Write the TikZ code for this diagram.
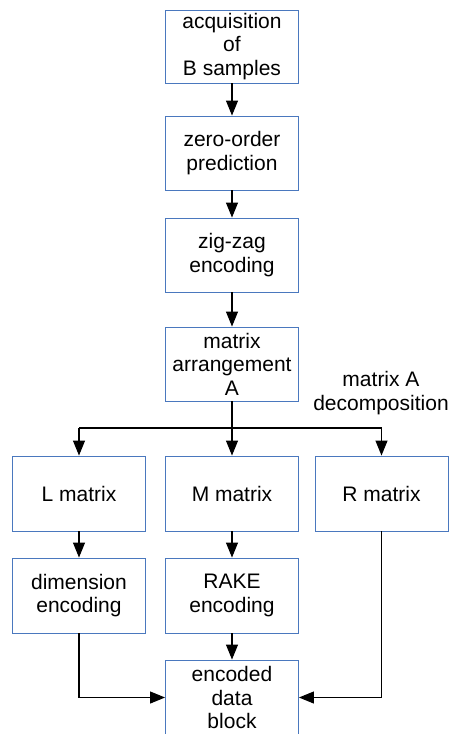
\documentclass[tikz,border=0pt]{standalone}
\usepackage{fontspec}
\setmainfont{Liberation Sans}
\usetikzlibrary{arrows.meta}
\definecolor{boxblue}{RGB}{74,120,190}
\begin{document}
\begin{tikzpicture}[x=1pt,y=-1pt,
  box/.style={draw=boxblue,line width=0.9pt,minimum width=133pt,minimum height=75pt,
    inner sep=0pt,align=center,font=\fontsize{21}{23.5}\selectfont},
  conn/.style={line width=1.1pt,-{Triangle[length=15pt,width=12pt]}},
  plain/.style={line width=1.1pt}]
\useasboundingbox (0,0) rectangle (452,734);
\clip (0,0) rectangle (452,734);
\node[box,minimum height=73pt] (acq) at (232,46.5) {acquisition\\of\\B samples};
\node[box,minimum height=74pt] (zero) at (232,153) {zero-order\\prediction};
\node[box,minimum height=74pt] (zig) at (232,255) {zig-zag\\encoding};
\node[box,minimum height=74pt] (arr) at (232,364) {matrix\\arrangement\\A};
\node[box] (L) at (79,493.5) {L matrix};
\node[box] (M) at (232,493.5) {M matrix};
\node[box] (R) at (381.5,493.5) {R matrix};
\node[box] (dim) at (79,595.5) {dimension\\encoding};
\node[box] (rake) at (232,595.5) {RAKE\\encoding};
\node[box] (enc) at (232,697.5) {encoded\\data\\block};
\node[align=center,font=\fontsize{21}{23.5}\selectfont] (lbl) at (381,393) {matrix A\\decomposition};
\coordinate (br) at (232,428);
\coordinate (brL) at (79,428);
\coordinate (brR) at (381.5,428);
\coordinate (dL) at (79,697.5);
\coordinate (dR) at (381.5,697.5);
\draw[conn] (acq) -- (zero);
\draw[conn] (zero) -- (zig);
\draw[conn] (zig) -- (arr);
\draw[plain] (arr.south) -- (br);
\draw[plain] (brL) -- (brR);
\draw[conn] (br) -- (M.north);
\draw[conn] (brL) -- (L.north);
\draw[conn] (brR) -- (R.north);
\draw[conn] (L) -- (dim);
\draw[conn] (M) -- (rake);
\draw[conn] (rake) -- (enc);
\draw[conn] (dim.south) -- (dL) -- (enc.west);
\draw[conn] (R.south) -- (dR) -- (enc.east);
\end{tikzpicture}
\end{document}
